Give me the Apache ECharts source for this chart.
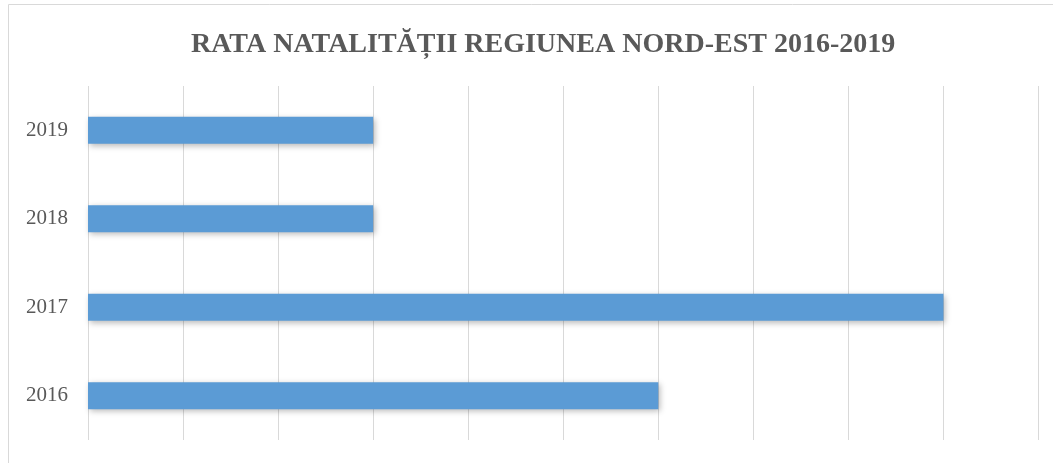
<!DOCTYPE html>
<html>
<head>
<meta charset="utf-8">
<script src="https://cdn.jsdelivr.net/npm/echarts@6/dist/echarts.min.js"></script>
<style>
  html, body { margin: 0; padding: 0; background: #fff; }
  #chart { width: 1053px; height: 463px; }
</style>
</head>
<body>
<div id="chart"></div>
<script>
// categories (bottom to top) and bar values
const years = ['2016', '2017', '2018', '2019'];
const rates = [6, 9, 3, 3];
const titleText = 'RATA NATALITĂȚII REGIUNEA NORD-EST 2016-2019';

let myChart = echarts.init(document.getElementById('chart'));
myChart.setOption({
  animation: false,
  // chart area border (only top and left visible in the frame)
  graphic: [{
    type: 'rect',
    shape: { x: 8.5, y: 4.5, width: 1200, height: 600 },
    style: { fill: 'none', stroke: '#d9d9d9', lineWidth: 1 },
    silent: true
  }],
  title: {
    text: titleText,
    left: 186,
    top: 26,
    textStyle: {
      fontFamily: '"Liberation Serif", "DejaVu Serif", serif',
      fontWeight: 'bold',
      fontSize: 28,
      color: '#595959'
    }
  },
  grid: {
    left: 88,
    right: 14.5,
    top: 86,
    bottom: 23
  },
  xAxis: {
    type: 'value',
    min: 0,
    max: 10,
    interval: 1,
    axisLabel: { show: false },
    axisLine: { show: false },
    axisTick: { show: false },
    splitLine: { show: true, lineStyle: { color: '#d9d9d9', width: 1 } }
  },
  yAxis: {
    type: 'category',
    data: years,
    axisLine: { show: false },
    axisTick: { show: false },
    axisLabel: {
      margin: 20,
      fontFamily: '"Liberation Serif", "DejaVu Serif", serif',
      fontSize: 21,
      color: '#595959'
    }
  },
  series: [{
    type: 'bar',
    data: rates,
    barWidth: 27,
    itemStyle: {
      color: '#5b9bd5',
      shadowColor: 'rgba(0,0,0,0.28)',
      shadowBlur: 6,
      shadowOffsetX: 2,
      shadowOffsetY: 2
    }
  }]
});
</script>
</body>
</html>
